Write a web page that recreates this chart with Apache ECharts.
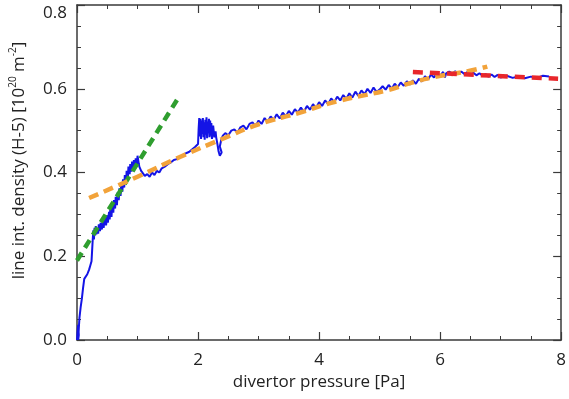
<!DOCTYPE html>
<html>
<head>
<meta charset="utf-8">
<script src="https://cdn.jsdelivr.net/npm/echarts@6/dist/echarts.min.js"></script>
<style>
html,body{margin:0;padding:0;background:#fff;}
#chart{width:569px;height:399px;}
</style>
</head>
<body>
<div id="chart"></div>
<script>
// ---- data ----
const xTicks = [0, 2, 4, 6, 8];
const yTicks = [0.0, 0.2, 0.4, 0.6, 0.8];

// measured line-integrated density vs divertor pressure (noisy trace)
const measured = [
  [0.00,0.000],[0.01,0.022],[0.02,0.036],[0.03,0.012],[0.02,0.000],[0.03,0.028],[0.04,0.052],
  [0.06,0.078],[0.08,0.098],[0.10,0.124],[0.12,0.146],[0.14,0.150],[0.17,0.157],[0.20,0.168],
  [0.22,0.178],[0.24,0.188],[0.25,0.214],[0.26,0.240],[0.27,0.262],[0.28,0.240],[0.29,0.268],
  [0.30,0.250],[0.31,0.272],[0.32,0.252],[0.33,0.266],[0.35,0.254],[0.36,0.276],[0.38,0.260],
  [0.39,0.280],[0.41,0.264],[0.43,0.284],[0.44,0.268],[0.46,0.292],[0.48,0.274],[0.50,0.298],
  [0.51,0.280],[0.53,0.306],[0.54,0.288],[0.55,0.312],[0.57,0.294],[0.58,0.322],[0.60,0.304],
  [0.61,0.334],[0.63,0.314],[0.64,0.342],[0.66,0.322],[0.67,0.352],[0.69,0.334],[0.70,0.362],
  [0.72,0.344],[0.73,0.372],[0.75,0.354],[0.76,0.384],[0.78,0.364],[0.79,0.394],[0.81,0.374],
  [0.82,0.404],[0.84,0.384],[0.85,0.414],[0.87,0.396],[0.88,0.420],[0.90,0.402],[0.91,0.426],
  [0.93,0.406],[0.94,0.430],[0.96,0.412],[0.97,0.434],[0.99,0.418],[1.00,0.440],[1.02,0.422],
  [1.03,0.414],[1.06,0.404],[1.09,0.398],[1.12,0.392],[1.16,0.396],[1.20,0.390],[1.24,0.400],
  [1.28,0.394],[1.32,0.404],[1.36,0.400],[1.40,0.410],[1.45,0.414],[1.50,0.420],[1.55,0.424],
  [1.60,0.430],[1.65,0.432],[1.70,0.438],[1.75,0.441],[1.80,0.446],[1.85,0.449],[1.90,0.455],
  [1.95,0.461],[2.00,0.468],
  [2.01,0.505],[2.02,0.530],[2.03,0.486],[2.04,0.528],[2.05,0.480],[2.06,0.524],[2.07,0.492],
  [2.08,0.530],[2.09,0.484],[2.10,0.520],[2.11,0.478],[2.12,0.526],[2.13,0.490],[2.14,0.532],
  [2.15,0.482],[2.16,0.522],[2.17,0.494],[2.18,0.528],[2.19,0.484],[2.20,0.524],[2.21,0.488],
  [2.22,0.518],[2.23,0.480],[2.25,0.512],[2.27,0.484],[2.29,0.498],[2.30,0.484],[2.32,0.468],
  [2.34,0.450],[2.36,0.440],[2.39,0.448],[2.36,0.462],[2.38,0.476],[2.41,0.488],[2.45,0.494],
  [2.50,0.489],[2.55,0.500],[2.60,0.503],[2.65,0.495],[2.70,0.508],[2.75,0.512],[2.80,0.503],
  [2.85,0.516],[2.90,0.520],[2.95,0.510],[3.00,0.524],[3.05,0.516],[3.10,0.530],[3.15,0.521],
  [3.20,0.534],[3.25,0.526],[3.30,0.539],[3.35,0.529],[3.40,0.543],[3.45,0.534],[3.50,0.547],
  [3.55,0.538],[3.60,0.551],[3.65,0.543],[3.70,0.555],[3.75,0.545],[3.80,0.559],[3.85,0.550],
  [3.90,0.563],[3.95,0.554],[4.00,0.568],[4.05,0.559],[4.10,0.572],[4.15,0.563],[4.20,0.577],
  [4.25,0.568],[4.30,0.581],[4.35,0.572],[4.40,0.585],[4.45,0.576],[4.50,0.589],[4.55,0.579],
  [4.60,0.593],[4.65,0.583],[4.70,0.596],[4.75,0.587],[4.80,0.600],[4.85,0.590],[4.90,0.603],
  [4.95,0.592],[5.00,0.598],[5.05,0.606],[5.10,0.598],[5.15,0.609],[5.20,0.600],[5.25,0.612],
  [5.30,0.604],[5.35,0.615],[5.40,0.607],[5.45,0.618],[5.50,0.610],[5.55,0.620],[5.60,0.612],
  [5.65,0.624],[5.70,0.617],[5.75,0.630],[5.80,0.622],[5.85,0.634],[5.90,0.627],[5.95,0.638],
  [6.00,0.631],[6.05,0.640],[6.08,0.627],[6.10,0.637],[6.15,0.641],[6.20,0.636],[6.25,0.642],
  [6.30,0.636],[6.35,0.641],[6.40,0.635],[6.45,0.640],[6.50,0.634],[6.55,0.638],[6.60,0.632],
  [6.65,0.637],[6.70,0.631],[6.75,0.635],[6.80,0.629],[6.85,0.634],[6.90,0.628],[6.95,0.633],
  [7.00,0.627],[7.10,0.631],[7.20,0.626],[7.30,0.630],[7.40,0.625],[7.50,0.629],[7.60,0.626],
  [7.70,0.631],[7.80,0.629]
];

// fitted/guide lines
const linearFit = [[0.00,0.190],[1.66,0.575]];
const curveFit = [[0.20,0.339],[1.00,0.390],[1.70,0.437],[2.40,0.480],[3.00,0.515],[3.66,0.542],
                  [4.30,0.570],[5.14,0.597],[5.52,0.614],[5.91,0.628],[6.46,0.642],[6.78,0.653]];
const saturationFit = [[5.55,0.640],[7.95,0.624]];

const FONT = '"Open Sans", "Liberation Sans", sans-serif';
const AX = '#3a3a3a';

function axisCommon(extra) {
  return Object.assign({
    type: 'value',
    axisLine: { show: true, onZero: false, lineStyle: { color: AX, width: 1.5 } },
    axisTick: { show: true, inside: true, length: 8, lineStyle: { color: AX, width: 1.2 } },
    minorTick: { show: true, splitNumber: 4, length: 4, lineStyle: { color: AX, width: 1 } },
    splitLine: { show: false },
    minorSplitLine: { show: false }
  }, extra);
}

const chart = echarts.init(document.getElementById('chart'), null, { renderer: 'canvas' });
chart.setOption({
  animation: false,
  backgroundColor: '#ffffff',
  grid: { left: 77, right: 4, top: 5, bottom: 59, containLabel: false },
  xAxis: [
    axisCommon({
      position: 'bottom', min: xTicks[0], max: xTicks[xTicks.length - 1], interval: 2,
      axisLabel: { show: true, margin: 12, color: '#222', fontSize: 17, fontFamily: FONT,
                   formatter: v => String(v) },
      name: 'divertor pressure [Pa]', nameLocation: 'middle', nameGap: 34,
      nameTextStyle: { color: '#222', fontSize: 17, fontFamily: FONT }
    }),
    axisCommon({
      position: 'top', min: xTicks[0], max: xTicks[xTicks.length - 1], interval: 2,
      axisLabel: { show: false }
    })
  ],
  yAxis: [
    axisCommon({
      position: 'left', min: yTicks[0], max: yTicks[yTicks.length - 1], interval: 0.2,
      axisLabel: { show: true, margin: 10, color: '#222', fontSize: 17, fontFamily: FONT,
                   formatter: v => (Math.abs(v - yTicks[yTicks.length - 1]) < 1e-9
                                    ? '{low|' + v.toFixed(1) + '}' : v.toFixed(1)),
                   rich: { low: { padding: [16, 0, 0, 0], color: '#222', fontSize: 17, fontFamily: FONT } } },
      name: 'line int. density (H-5) [10{sup|20} m{sup|-2}]', nameLocation: 'middle', nameGap: 47,
      nameTextStyle: { color: '#222', fontSize: 17, fontFamily: FONT, lineHeight: 22,
                       padding: [0, 0, 0, 24],
                       rich: { sup: { fontSize: 10, lineHeight: 10, verticalAlign: 'top',
                                      color: '#222', fontFamily: FONT } } }
    }),
    axisCommon({
      position: 'right', min: yTicks[0], max: yTicks[yTicks.length - 1], interval: 0.2,
      axisLabel: { show: false }
    })
  ],
  series: [
    { type: 'line', name: 'measured', data: measured, showSymbol: false, symbol: 'none',
      lineStyle: { color: '#1414e6', width: 2 }, z: 2 },
    { type: 'line', name: 'linear', data: linearFit, showSymbol: false, symbol: 'none',
      lineStyle: { color: '#2f9e2f', width: 4.5, type: [9, 6], cap: 'butt' }, z: 3 },
    { type: 'line', name: 'curve', data: curveFit, smooth: true, showSymbol: false, symbol: 'none',
      lineStyle: { color: '#f2a33a', width: 4.5, type: [10, 6], cap: 'butt' }, z: 3 },
    { type: 'line', name: 'saturation', data: saturationFit, showSymbol: false, symbol: 'none',
      lineStyle: { color: '#e8262b', width: 4.5, type: [10, 7], cap: 'butt' }, z: 4 }
  ]
});
</script>
</body>
</html>
